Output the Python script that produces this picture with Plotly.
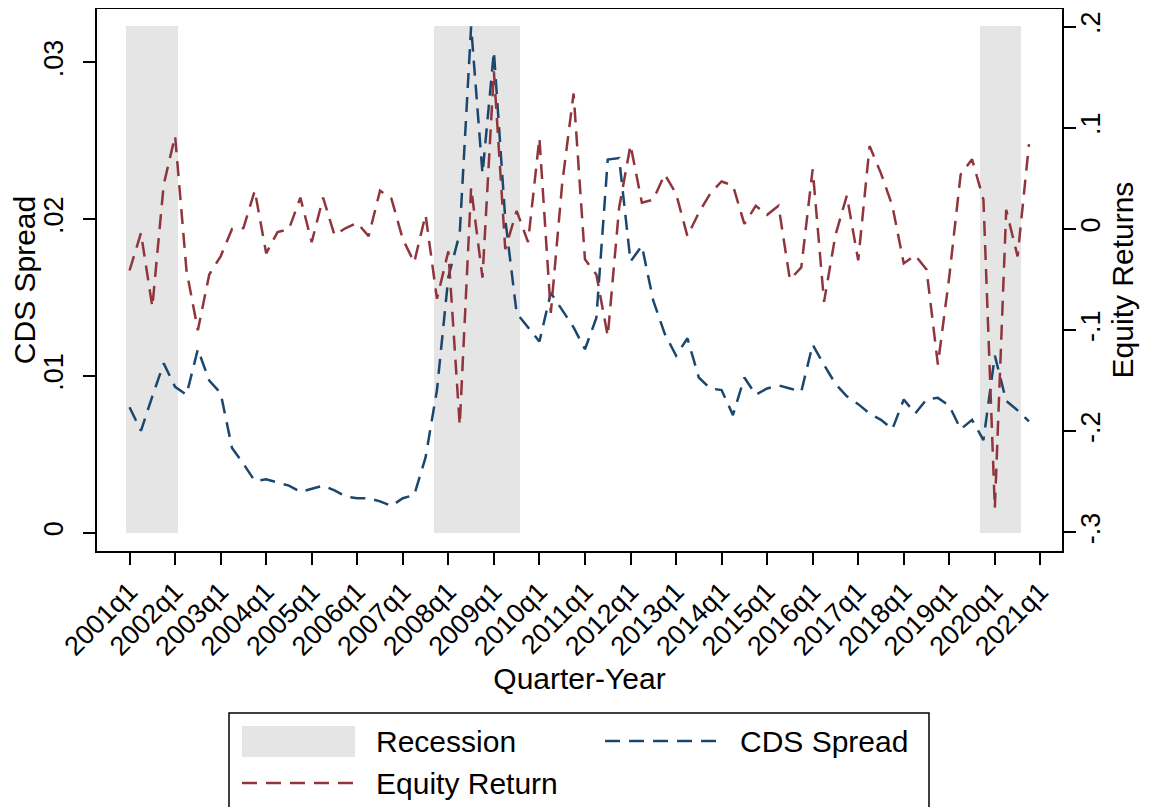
import plotly.graph_objects as go

# quarterly series, 2001q1 .. 2020q4
tick_labels = [
    "2001q1", "2002q1", "2003q1", "2004q1", "2005q1", "2006q1", "2007q1",
    "2008q1", "2009q1", "2010q1", "2011q1", "2012q1", "2013q1", "2014q1",
    "2015q1", "2016q1", "2017q1", "2018q1", "2019q1", "2020q1", "2021q1",
]

cds_spread = [
    0.0080, 0.0065, 0.0087, 0.0108, 0.0093, 0.0088, 0.0117, 0.0097, 0.0089, 0.0054,
    0.0044, 0.0033, 0.0034, 0.0032, 0.0030, 0.0026, 0.0028, 0.0030, 0.0027, 0.0023,
    0.0022, 0.0022, 0.0020, 0.0017, 0.0022, 0.0024, 0.0048, 0.0091, 0.0163, 0.0191,
    0.0323, 0.0229, 0.0307, 0.0200, 0.0140, 0.0131, 0.0122, 0.0153, 0.0142, 0.0131,
    0.0117, 0.0137, 0.0238, 0.0239, 0.0173, 0.0183, 0.0148, 0.0127, 0.0113, 0.0124,
    0.0099, 0.0092, 0.0091, 0.0075, 0.0099, 0.0088, 0.0092, 0.0094, 0.0092, 0.0090,
    0.0120, 0.0107, 0.0095, 0.0087, 0.0082, 0.0076, 0.0072, 0.0066, 0.0085, 0.0076,
    0.0085, 0.0086, 0.0081, 0.0066, 0.0072, 0.0059, 0.0113, 0.0084, 0.0078, 0.0071,
]

equity_return = [
    -0.041, -0.004, -0.077, 0.044, 0.092, -0.041, -0.100, -0.045, -0.027, 0.000,
    0.001, 0.038, -0.024, -0.003, 0.000, 0.031, -0.013, 0.031, -0.006, 0.001,
    0.006, -0.007, 0.038, 0.030, -0.010, -0.033, 0.014, -0.069, -0.022, -0.194,
    0.041, -0.048, 0.156, -0.020, 0.018, -0.013, 0.090, -0.083, 0.045, 0.134,
    -0.030, -0.045, -0.106, 0.021, 0.083, 0.026, 0.029, 0.054, 0.035, -0.007,
    0.016, 0.035, 0.047, 0.043, 0.005, 0.023, 0.014, 0.023, -0.050, -0.038,
    0.059, -0.072, -0.006, 0.033, -0.031, 0.082, 0.055, 0.023, -0.034, -0.026,
    -0.040, -0.134, -0.047, 0.054, 0.069, 0.029, -0.276, 0.019, -0.027, 0.084,
]

# recession bands, in quarters since 2001q1
recession_start = [-0.3, 26.75, 74.7]
recession_end = [4.25, 34.3, 78.3]

cds_ticks = [0, 0.01, 0.02, 0.03]
cds_tick_text = ["0", ".01", ".02", ".03"]
eq_ticks = [-0.3, -0.2, -0.1, 0, 0.1, 0.2]
eq_tick_text = ["-.3", "-.2", "-.1", "0", ".1", ".2"]

quarter = list(range(len(cds_spread)))
tick_pos = list(range(0, 4 * len(tick_labels), 4))

NAVY = "#1A476F"
MAROON = "#90353B"
SHADE = "#E5E5E5"
FONT = "Liberation Sans, Arial, sans-serif"
DASH = "15px,9px"

# page puts the plot 8px in from the corner, so size the figure to match
FIG_W, FIG_H = 1141, 799
M_L, M_R, M_T, M_B = 89, 87, 1, 256
PLOT_W = FIG_W - M_L - M_R
PLOT_H = FIG_H - M_T - M_B


def px(x):
    """figure pixel -> paper x"""
    return (x - M_L) / PLOT_W


def py(y):
    """figure pixel (from top) -> paper y"""
    return (FIG_H - M_B - y) / PLOT_H


fig = go.Figure()

fig.add_trace(
    go.Bar(
        x=[(s + e) / 2 for s, e in zip(recession_start, recession_end)],
        y=[max(cds_spread)] * len(recession_start),
        width=[e - s for s, e in zip(recession_start, recession_end)],
        marker=dict(color=SHADE, line=dict(width=0)),
        name="Recession",
        hoverinfo="skip",
        showlegend=False,
    )
)
fig.add_trace(
    go.Scatter(
        x=quarter,
        y=cds_spread,
        mode="lines",
        line=dict(color=NAVY, width=2.5, dash=DASH),
        name="CDS Spread",
        showlegend=False,
    )
)
fig.add_trace(
    go.Scatter(
        x=quarter,
        y=equity_return,
        mode="lines",
        line=dict(color=MAROON, width=2.5, dash=DASH),
        name="Equity Return",
        yaxis="y2",
        showlegend=False,
    )
)

# legend box drawn by hand (Stata style: wide swatches, two columns)
legend_shapes = [
    dict(type="rect", xref="paper", yref="paper",
         x0=px(221), x1=px(921), y0=py(840), y1=py(705),
         line=dict(color="black", width=1.5), fillcolor="white"),
    dict(type="rect", xref="paper", yref="paper",
         x0=px(234), x1=px(347), y0=py(749), y1=py(718),
         line=dict(width=0), fillcolor=SHADE),
    dict(type="line", xref="paper", yref="paper",
         x0=px(597), x1=px(710), y0=py(733), y1=py(733),
         line=dict(color=NAVY, width=2.5, dash=DASH)),
    dict(type="line", xref="paper", yref="paper",
         x0=px(234), x1=px(347), y0=py(775), y1=py(775),
         line=dict(color=MAROON, width=2.5, dash=DASH)),
]
legend_text = [
    ("Recession", 366, 733),
    ("CDS Spread", 730, 733),
    ("Equity Return", 366, 775),
]
legend_annotations = [
    dict(text=t, xref="paper", yref="paper", x=px(x), y=py(y),
         xanchor="left", yanchor="middle", showarrow=False,
         font=dict(size=30, color="black"))
    for t, x, y in legend_text
]

axis_style = dict(
    showgrid=False,
    zeroline=False,
    showline=True,
    linecolor="black",
    linewidth=2,
    ticks="outside",
    ticklen=12,
    tickwidth=2,
    tickcolor="black",
    tickfont=dict(size=27, color="black"),
    automargin=True,
)

fig.update_layout(
    width=FIG_W,
    height=FIG_H,
    margin=dict(l=M_L, r=M_R, t=M_T, b=M_B, autoexpand=False),
    paper_bgcolor="white",
    plot_bgcolor="white",
    font=dict(family=FONT, color="black"),
    bargap=0,
    showlegend=False,
    shapes=legend_shapes,
    annotations=legend_annotations,
    xaxis=dict(
        range=[-2.86, 81.9],
        tickvals=tick_pos,
        ticktext=tick_labels,
        tickangle=-45,
        mirror=True,
        title=dict(text="Quarter-Year", font=dict(size=30), standoff=8),
        **axis_style,
    ),
    yaxis=dict(
        range=[-0.00117, 0.03341],
        tickvals=cds_ticks,
        ticktext=cds_tick_text,
        tickangle=-90,
        ticklabelstandoff=9,
        title=dict(text="CDS Spread", font=dict(size=30), standoff=3),
        **axis_style,
    ),
    yaxis2=dict(
        overlaying="y",
        side="right",
        range=[-0.3183, 0.2175],
        tickvals=eq_ticks,
        ticktext=eq_tick_text,
        tickangle=-90,
        ticklabelstandoff=-8,
        title=dict(text="Equity Returns", font=dict(size=30), standoff=7),
        **axis_style,
    ),
)

fig.write_html("out.html")
